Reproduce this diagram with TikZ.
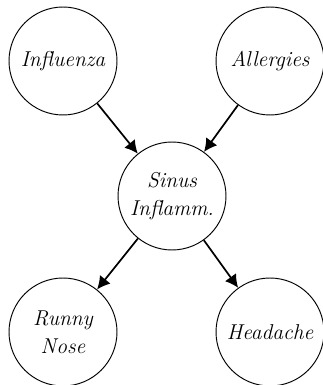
\documentclass[tikz,border=0pt]{standalone}
\usetikzlibrary{arrows.meta}
\begin{document}
\begin{tikzpicture}[x=0.526pt,y=-0.526pt,
  var/.style={circle,draw,line width=0.5pt,minimum size=56.8pt,inner sep=0pt,align=center,
    font=\itshape\fontsize{11.3}{14.6}\selectfont},
  edge/.style={line width=0.9pt,-{Latex[length=6.8pt,width=7.2pt]}}]
\useasboundingbox (0,0) rectangle (323,385);
\node[var] (inf) at (63,61) {Influenza};
\node[var] (all) at (270,61) {Allergies};
\node[var] (sin) at (172,196) {Sinus\\Inflamm.};
\node[var] (run) at (63,332) {Runny\\Nose};
\node[var] (hea) at (270,332) {Headache};
\draw[edge] (inf) -- (sin);
\draw[edge] (all) -- (sin);
\draw[edge] (sin) -- (run);
\draw[edge] (sin) -- (hea);
\end{tikzpicture}
\end{document}
